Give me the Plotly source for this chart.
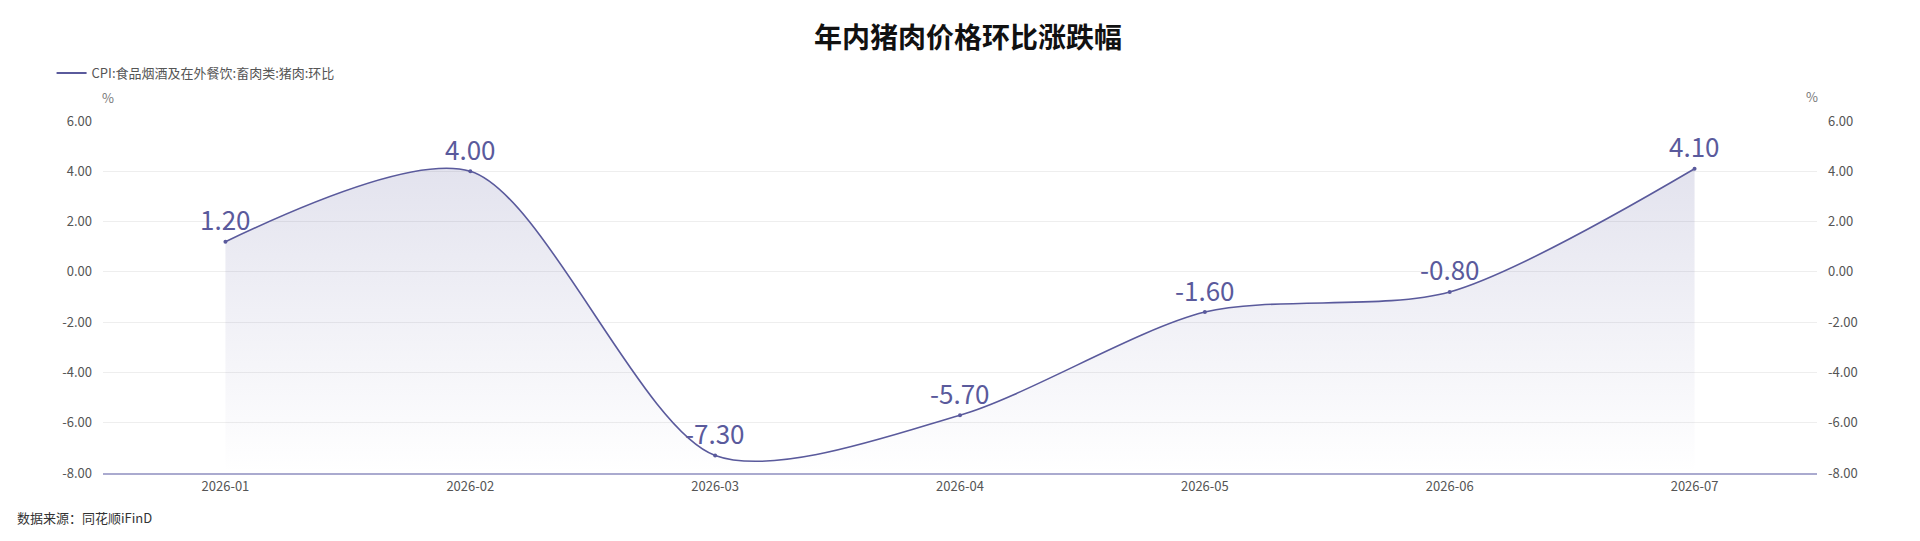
import plotly.graph_objects as go

# data
months = ["2026-01", "2026-02", "2026-03", "2026-04", "2026-05", "2026-06", "2026-07"]
pork_mom = [1.20, 4.00, -7.30, -5.70, -1.60, -0.80, 4.10]
series_name = "CPI:食品烟酒及在外餐饮:畜肉类:猪肉:环比"
y_min, y_max = -8, 6

line_color = "#5a5a9c"
font_cn = "Noto Sans CJK SC"

fig = go.Figure()

# invisible floor so the area reaches the bottom of the axis
fig.add_trace(go.Scatter(
    x=months, y=[y_min] * len(months), mode="lines",
    line=dict(width=0), showlegend=False, hoverinfo="skip",
))

fig.add_trace(go.Scatter(
    x=months, y=pork_mom,
    mode="lines+markers",
    line=dict(color=line_color, width=1.6, shape="spline", smoothing=0.8),
    marker=dict(size=4, color=line_color),
    fill="tonexty",
    fillgradient=dict(
        type="vertical",
        start=y_min, stop=max(pork_mom),
        colorscale=[[0, "rgba(90,90,156,0.0)"], [1, "rgba(90,90,156,0.17)"]],
    ),
    showlegend=False,
    name=series_name,
))

# legend entry (line only), also keeps the right axis alive
fig.add_trace(go.Scatter(
    x=[None], y=[None], mode="lines", yaxis="y2",
    line=dict(color=line_color, width=2),
    name=series_name,
))

tick_vals = list(range(y_min, y_max + 1, 2))
tick_txt = [f"{v:.2f}" for v in tick_vals]

# value labels above each point
labels = [
    dict(x=m, y=v, text=f"{v:.2f}", showarrow=False, yshift=23,
         xanchor="center", yanchor="middle",
         font=dict(size=26, color=line_color, family=font_cn))
    for m, v in zip(months, pork_mom)
]

# page adds an 8px body margin, so everything is placed 8px up/left
fig.update_layout(
    width=1920, height=541,
    margin=dict(l=95, r=111, t=113, b=76),
    paper_bgcolor="white", plot_bgcolor="white",
    font=dict(family=font_cn, size=13, color="#555555"),
    title=dict(
        text="<b>年内猪肉价格环比涨跌幅</b>",
        x=0.5, xanchor="center", y=1 - 30 / 541, yanchor="middle",
        font=dict(size=28, color="#111111", family=font_cn),
    ),
    showlegend=True,
    legend=dict(
        x=-0.030, xanchor="left", y=1 + 48 / 352, yanchor="middle",
        orientation="h", font=dict(size=13, color="#555555"),
        itemwidth=30, bgcolor="rgba(0,0,0,0)",
    ),
    xaxis=dict(
        type="category", range=[-0.5, len(months) - 0.5],
        showgrid=False, showline=True, linecolor="#aaaacf", linewidth=1.5,
        ticks="", ticklabelstandoff=1, zeroline=False,
        tickfont=dict(size=13, color="#555555"),
    ),
    yaxis=dict(
        range=[y_min, y_max], tickvals=tick_vals, ticktext=tick_txt,
        showgrid=True, gridcolor="#eeeeee", gridwidth=1, zeroline=False,
        showline=False, ticks="", ticklabelstandoff=10,
        tickfont=dict(size=13, color="#555555"),
    ),
    yaxis2=dict(
        range=[y_min, y_max], tickvals=tick_vals, ticktext=tick_txt,
        overlaying="y", side="right", showgrid=False, zeroline=False,
        showline=False, ticks="", ticklabelstandoff=10,
        tickfont=dict(size=13, color="#555555"),
    ),
    annotations=labels + [
        dict(text="%", xref="paper", yref="paper", x=5 / 1714, y=1 + 24 / 352,
             showarrow=False, xanchor="center", yanchor="middle",
             font=dict(size=13, color="#777777")),
        dict(text="%", xref="paper", yref="paper", x=1 - 5 / 1714, y=1 + 25 / 352,
             showarrow=False, xanchor="center", yanchor="middle",
             font=dict(size=13, color="#777777")),
        dict(text="数据来源：同花顺iFinD", xref="paper", yref="paper",
             x=-88 / 1714, y=-44 / 352, xanchor="left", yanchor="middle",
             showarrow=False, font=dict(size=13, color="#333333")),
    ],
)

fig.write_html("out.html")
